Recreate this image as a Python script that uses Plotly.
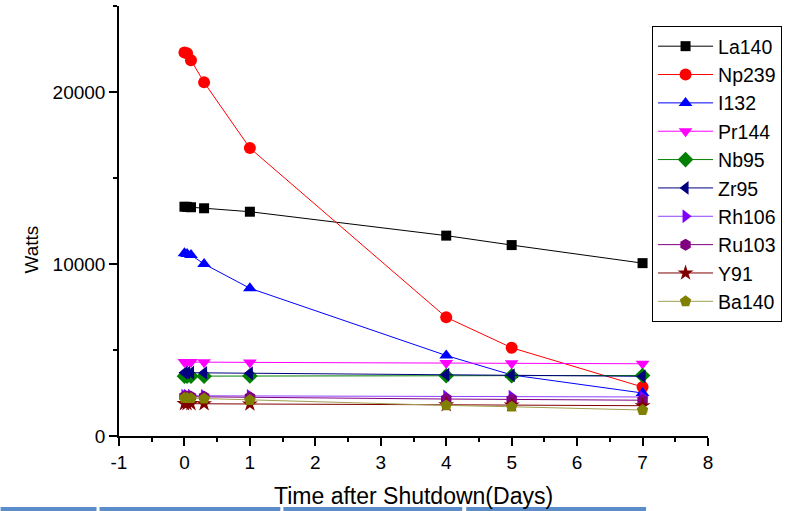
import plotly.graph_objects as go

time_days = [0, 0.04, 0.1, 0.3, 1, 4, 5, 7]

la140 = [13330, 13320, 13300, 13240, 13040, 11650, 11100, 10050]
np239 = [22300, 22250, 21850, 20560, 16740, 6900, 5130, 2850]
i132 = [10620, 10580, 10520, 10000, 8590, 4680, 3550, 2500]
pr144 = [4300, 4300, 4300, 4290, 4280, 4240, 4230, 4200]
nb95 = [3480, 3480, 3480, 3480, 3490, 3500, 3500, 3520]
zr95 = [3680, 3680, 3680, 3670, 3650, 3560, 3530, 3470]
rh106 = [2340, 2340, 2340, 2335, 2330, 2300, 2290, 2270]
ru103 = [2290, 2290, 2285, 2280, 2250, 2150, 2120, 2080]
y91 = [1880, 1880, 1880, 1875, 1860, 1815, 1800, 1760]
ba140 = [2210, 2205, 2195, 2170, 2090, 1780, 1700, 1510]

series_names = ["La140", "Np239", "I132", "Pr144", "Nb95", "Zr95",
                "Rh106", "Ru103", "Y91", "Ba140"]
series_values = [la140, np239, i132, pr144, nb95, zr95, rh106, ru103, y91, ba140]
colors = ["#000000", "#FF0000", "#0000FF", "#FF00FF", "#008000", "#000080",
          "#8000FF", "#800080", "#800000", "#808000"]
line_colors = ["#000000", "#FF0000", "#0000FF", "#FF00FF", "#008000", "#000080",
               "#9040FF", "#800080", "#800000", "#A0A050"]
symbols = ["square", "circle", "triangle-up", "triangle-down", "diamond",
           "triangle-left", "triangle-right", "hexagon", "star", "pentagon"]
sizes = [10, 12, 12, 12, 12, 12, 12, 12, 12, 12]

x_ticks = [-1, 0, 1, 2, 3, 4, 5, 6, 7, 8]
y_ticks = [0, 10000, 20000]

fig = go.Figure()
for name, vals, c, lc, s, sz in zip(series_names, series_values, colors,
                                    line_colors, symbols, sizes):
    fig.add_trace(go.Scatter(
        x=time_days, y=vals, name=name, mode="lines+markers",
        line=dict(color=lc, width=1),
        marker=dict(symbol=s, size=sz, color=c, line=dict(width=0)),
    ))

font = "Liberation Sans, Arial, sans-serif"
axis_common = dict(
    showline=True, linecolor="black", linewidth=1.5, mirror=False,
    showgrid=False, zeroline=False,
    ticks="outside", ticklen=8, tickwidth=1.5, tickcolor="black",
    tickfont=dict(family=font, size=19, color="black"),
)

fig.update_xaxes(range=[-1, 8], tickvals=x_ticks,
                 ticktext=[str(v) for v in x_ticks],
                 minor=dict(ticks="outside", ticklen=4, tickwidth=1.5,
                            tickcolor="black", dtick=0.5, tick0=-1),
                 **axis_common)
fig.update_yaxes(range=[0, 25000], tickvals=y_ticks,
                 ticktext=[str(v) for v in y_ticks],
                 minor=dict(ticks="outside", ticklen=4, tickwidth=1.5,
                            tickcolor="black", dtick=5000, tick0=0),
                 **axis_common)

shapes = []
for x0, x1 in [(0, 96), (99, 280), (283, 462), (466, 646)]:
    shapes.append(dict(type="rect", xref="paper", yref="paper",
                       x0=(x0 - 118.5) / 589.5, x1=(x1 - 118.5) / 589.5,
                       y0=(436 - 511) / 430, y1=(436 - 507) / 430,
                       fillcolor="#5B8DCB", line=dict(width=0), layer="above"))

fig.update_layout(
    width=804, height=511,
    margin=dict(l=118.5, r=96, t=6, b=75),
    plot_bgcolor="white", paper_bgcolor="white",
    font=dict(family=font, color="black"),
    showlegend=True,
    legend=dict(
        x=(652 - 118.5) / 589.5, y=(436 - 26) / 430,
        xanchor="left", yanchor="top",
        bgcolor="white", bordercolor="black", borderwidth=1,
        font=dict(family=font, size=19.5, color="black"),
        itemwidth=55,
    ),
    shapes=shapes,
    annotations=[
        dict(text="Watts", xref="paper", yref="paper",
             x=(30 - 118.5) / 589.5, y=(436 - 250) / 430,
             xanchor="center", yanchor="middle",
             textangle=-90, showarrow=False,
             font=dict(family=font, size=19, color="black")),
        dict(text="Time after Shutdown(Days)", xref="paper", yref="paper",
             x=(413.5 - 118.5) / 589.5, y=(436 - 496) / 430,
             xanchor="center", yanchor="middle", showarrow=False,
             font=dict(family=font, size=23, color="black")),
    ],
)

fig.write_html("out.html",
               config={"displayModeBar": False},
               post_script="document.body.style.margin='0';"
                           "document.body.style.overflow='hidden';")
